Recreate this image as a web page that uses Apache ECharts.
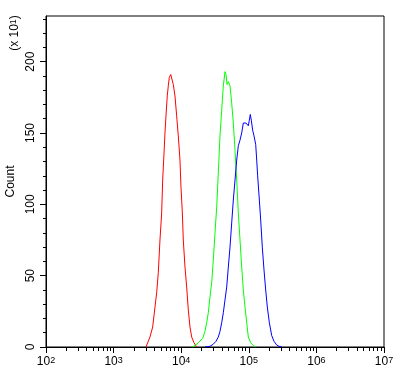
<!DOCTYPE html>
<html>
<head>
<meta charset="utf-8">
<script src="https://cdn.jsdelivr.net/npm/echarts@6/dist/echarts.min.js"></script>
<style>
  html, body { margin: 0; padding: 0; background: #fff; }
  #container { width: 407px; height: 375px; }
</style>
</head>
<body>
<div id="container"></div>
<script>
// positions on x are read as log10 of the channel value
var redLog = [3.479, 3.538, 3.578, 3.612, 3.637, 3.661, 3.686, 3.711, 3.726, 3.746, 3.760, 3.775, 3.794, 3.809, 3.824, 3.845,
  3.859, 3.883, 3.908, 3.933, 3.957, 3.982, 3.997, 4.017, 4.031, 4.056, 4.081, 4.105, 4.130, 4.155, 4.189, 4.229];
var redCount = [0, 7, 14, 28, 38, 52, 75, 94, 117, 136, 150, 162, 176, 183, 189, 191,
  190, 184, 176, 162, 148, 131, 112, 94, 75, 56, 42, 26, 14, 7, 3, 0];

var greenLog = [4.155, 4.204, 4.253, 4.278, 4.318, 4.352, 4.377, 4.401, 4.426, 4.451, 4.475, 4.500, 4.525, 4.549, 4.574, 4.599,
  4.623, 4.648, 4.663, 4.678, 4.697, 4.722, 4.747, 4.771, 4.796, 4.821, 4.845, 4.870, 4.895, 4.919, 4.944, 4.969,
  4.993, 5.028, 5.067, 5.107];
var greenCount = [0, 1, 3, 4, 6, 11, 17, 24, 35, 45, 61, 80, 98, 122, 148, 166,
  183, 193, 191, 184, 186, 183, 171, 157, 138, 117, 94, 75, 56, 40, 28, 17,
  7, 3, 1, 0];

var blueLog = [4.352, 4.426, 4.475, 4.515, 4.549, 4.574, 4.599, 4.623, 4.648, 4.673, 4.697, 4.722, 4.747, 4.771, 4.796, 4.821,
  4.845, 4.870, 4.895, 4.919, 4.944, 4.959, 4.978, 4.993, 5.008, 5.022, 5.037, 5.057, 5.077, 5.102, 5.117, 5.131,
  5.156, 5.176, 5.200, 5.225, 5.250, 5.274, 5.304, 5.339, 5.373, 5.412, 5.447, 5.490];
var blueCount = [0, 0.5, 2, 4, 7, 11, 17, 24, 33, 42, 56, 70, 87, 103, 117, 131,
  141, 145, 150, 157, 158, 157, 156, 155, 159, 163, 159, 152, 148, 142, 131, 120,
  103, 89, 70, 54, 40, 28, 17, 8, 4, 1.4, 0.5, 0];

var yMajorTicks = [0, 50, 100, 150, 200];
var yMinorTicks = [10, 20, 30, 40, 60, 70, 80, 90, 110, 120, 130, 140, 160, 170, 180, 190, 210, 220, 230];
var xMajorTicks = [1e2, 1e3, 1e4, 1e5, 1e6, 1e7];
var xMinorTicks = [];
[1e2, 1e3, 1e4, 1e5, 1e6].forEach(function (d) {
  [2, 3, 4, 5, 6, 7, 8, 9].forEach(function (k) { xMinorTicks.push(k * d); });
});

function pairs(logs, counts) {
  var out = [];
  for (var i = 0; i < logs.length; i++) {
    out.push([Math.pow(10, logs[i]), counts[i]]);
  }
  return out;
}

var font = 'Liberation Sans, Arial, sans-serif';
// base text + raised exponent
var supRich = {
  b: { fontSize: 12, lineHeight: 12, verticalAlign: 'bottom', fontFamily: font, color: '#000', fill: '#000' },
  s: { fontSize: 9, lineHeight: 9, padding: [0, 0, 7, 0], verticalAlign: 'top', fontFamily: font, color: '#000', fill: '#000' }
};

var dom = document.getElementById('container');
var myChart = echarts.init(dom, null, { renderer: 'canvas' });

var option = {
  animation: false,
  backgroundColor: '#fff',
  grid: {
    left: 46, right: 23, top: 16, bottom: 28,
    show: true, borderColor: '#000', borderWidth: 1,
    containLabel: false, outerBoundsMode: 'none'
  },
  xAxis: [
    {
      type: 'log', logBase: 10, min: 1e2, max: 1e7,
      axisLine: { lineStyle: { color: '#000', width: 1 } },
      axisTick: { show: true, length: 6, lineStyle: { color: '#000' }, customValues: xMajorTicks },
      splitLine: { show: false },
      axisLabel: {
        color: '#000', fontFamily: font, fontSize: 12, margin: 9,
        customValues: xMajorTicks,
        formatter: function (v) {
          return '{b|10}{s|' + Math.round(Math.log10(v)) + '}';
        },
        rich: supRich
      }
    },
    {
      type: 'log', logBase: 10, min: 1e2, max: 1e7, position: 'bottom',
      axisLine: { show: false },
      axisTick: { show: true, length: 4, lineStyle: { color: '#000' }, customValues: xMinorTicks },
      axisLabel: { show: false },
      splitLine: { show: false }
    }
  ],
  yAxis: [
    {
      type: 'value', min: 0, max: 232, interval: 50, position: 'left',
      name: 'Count', nameLocation: 'middle', nameGap: 21, nameRotate: 90,
      nameTextStyle: { color: '#000', fontFamily: font, fontSize: 12 },
      axisLine: { show: true, lineStyle: { color: '#000' } },
      axisTick: { show: true, length: 6, lineStyle: { color: '#000' }, customValues: yMajorTicks },
      axisLabel: {
        color: '#000', fontFamily: font, fontSize: 12, rotate: 90, margin: 9,
        customValues: yMajorTicks
      },
      splitLine: { show: false }
    },
    {
      type: 'value', min: 0, max: 232, position: 'left',
      axisLine: { show: false },
      axisTick: { show: true, length: 3, lineStyle: { color: '#000' }, customValues: yMinorTicks },
      axisLabel: { show: false },
      splitLine: { show: false }
    }
  ],
  graphic: [
    {
      type: 'text', x: 15, y: 33, rotation: Math.PI / 2,
      style: {
        text: '{b|(x 10}{s|1}{b|)}',
        rich: supRich,
        fontFamily: font, fontSize: 12, fill: '#000',
        align: 'center', verticalAlign: 'middle'
      }
    }
  ],
  series: [
    {
      name: 'red', type: 'line', data: pairs(redLog, redCount),
      symbol: 'none', lineStyle: { color: '#ff0000', width: 1 }, itemStyle: { color: '#ff0000' }
    },
    {
      name: 'green', type: 'line', data: pairs(greenLog, greenCount),
      symbol: 'none', lineStyle: { color: '#00ff00', width: 1 }, itemStyle: { color: '#00ff00' }
    },
    {
      name: 'blue', type: 'line', data: pairs(blueLog, blueCount),
      symbol: 'none', lineStyle: { color: '#0000ff', width: 1 }, itemStyle: { color: '#0000ff' }
    }
  ]
};

myChart.setOption(option);
</script>
</body>
</html>
